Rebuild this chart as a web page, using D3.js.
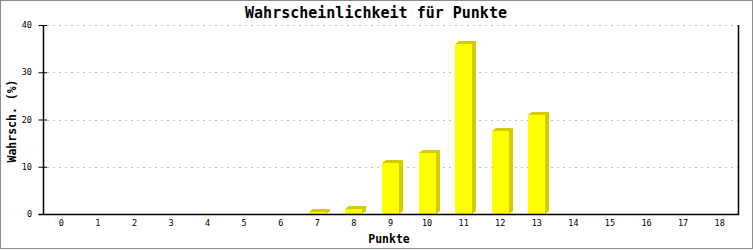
<!DOCTYPE html>
<html><head><meta charset="utf-8">
<script src="https://cdn.jsdelivr.net/npm/d3@7"></script>
<style>body{margin:0;background:#fff}svg{display:block}</style>
</head><body>
<svg id="c" width="753" height="250"></svg>
<script>
const categories = ["0","1","2","3","4","5","6","7","8","9","10","11","12","13","14","15","16","17","18"];
const values = [0,0,0,0,0,0,0,0.45,1.15,10.85,12.95,36.0,17.65,21.0,0,0,0,0,0];
const yTicks = [0,10,20,30,40];
const title = "Wahrscheinlichkeit für Punkte";
const xTitle = "Punkte";
const yTitle = "Wahrsch. (%)";

const svg = d3.select("#c");
const W = 753, H = 250;
const m = {l:43, r:738, t:25, b:214};
const mono = "'DejaVu Sans Mono', monospace";

svg.append("rect").attr("x",0.5).attr("y",0.5).attr("width",W-1).attr("height",H-2)
  .attr("fill","#fff").attr("stroke","#8c8c8c");

const x = d3.scaleBand().domain(categories).range([m.l, m.r]);
const y = d3.scaleLinear().domain([0,40]).range([m.b, m.t]);

// grid
svg.append("g").selectAll("line").data(yTicks.filter(d=>d>0)).join("line")
  .attr("x1", m.l+4).attr("x2", m.r).attr("y1", d=>Math.round(y(d))+0.5).attr("y2", d=>Math.round(y(d))+0.5)
  .attr("stroke","#c0c0c0").attr("stroke-dasharray","2,4");

// bars
const bw = 17, dx = 4, dy = 3;
const bars = svg.append("g");
categories.forEach((c,i)=>{
  const v = values[i];
  if (v<=0) return;
  const x0 = Math.round(x(c) + x.bandwidth()/2 - bw/2);
  const yt = Math.round(y(v)), yb = Math.round(y(0));
  bars.append("path").attr("fill","#d4cc00")
    .attr("d", `M${x0},${yt} L${x0+dx},${yt-dy} L${x0+bw+dx},${yt-dy} L${x0+bw+dx},${yb-dy} L${x0+bw},${yb} L${x0},${yb} Z`);
  bars.append("rect").attr("x",x0).attr("y",yt).attr("width",bw).attr("height",yb-yt).attr("fill","#ffff00");
});

// axes
const yAxis = d3.axisLeft(y).tickValues(yTicks).tickSize(0).tickPadding(0).tickFormat(d3.format("d"));
const gy = svg.append("g").attr("transform",`translate(${m.l},0)`).call(yAxis);
gy.select(".domain").remove();
gy.selectAll(".tick text").attr("x",-11).attr("dy","0.32em").attr("font-family",mono).attr("font-size","8.5px").attr("fill","#000");
gy.selectAll(".tick").append("line").attr("x1",-4.5).attr("x2",4).attr("stroke","#000").attr("stroke-width",1);

const xAxis = d3.axisBottom(x).tickSize(0).tickPadding(0);
const gx = svg.append("g").attr("transform",`translate(0,${m.b})`).call(xAxis);
gx.select(".domain").remove();
gx.selectAll(".tick text").attr("y",12).attr("dy","0").attr("font-family",mono).attr("font-size","8.5px").attr("fill","#000");

svg.append("line").attr("x1",m.l-4.5).attr("x2",m.r+1).attr("y1",m.b+0.5).attr("y2",m.b+0.5).attr("stroke","#000").attr("stroke-width",1.5);
svg.append("line").attr("x1",m.l+0.5).attr("x2",m.l+0.5).attr("y1",m.t).attr("y2",m.b+1).attr("stroke","#000").attr("stroke-width",1.5);
svg.append("line").attr("x1",m.r+0.5).attr("x2",m.r+0.5).attr("y1",m.t).attr("y2",m.b+1).attr("stroke","#000").attr("stroke-width",1.5);

// titles
svg.append("text").attr("x",376).attr("y",18).attr("text-anchor","middle")
  .attr("font-family",mono).attr("font-weight","bold").attr("font-size","15px").text(title);
svg.append("text").attr("x",389).attr("y",243).attr("text-anchor","middle")
  .attr("font-family",mono).attr("font-weight","bold").attr("font-size","11.5px").text(xTitle);
svg.append("text").attr("transform","translate(16,121) rotate(-90)").attr("text-anchor","middle")
  .attr("font-family",mono).attr("font-weight","bold").attr("font-size","11.5px").text(yTitle);
</script>
</body></html>
